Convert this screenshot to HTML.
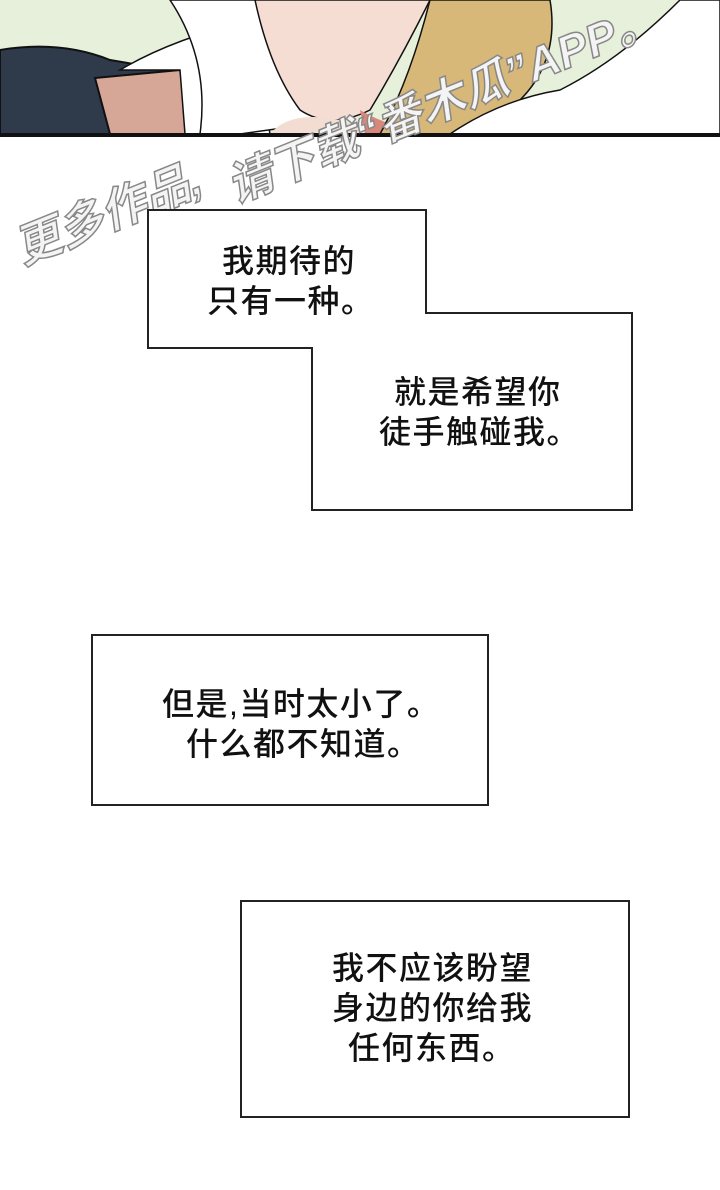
<!DOCTYPE html>
<html><head><meta charset="utf-8"><style>
body{margin:0;width:720px;height:1190px;background:#fff;position:relative;overflow:hidden;font-family:"Liberation Sans","Noto Sans CJK SC",sans-serif}
.t{position:absolute;font-size:32px;line-height:40px;color:#111;font-weight:500;white-space:nowrap;letter-spacing:1.5px}
.b{position:absolute;border:2px solid #222;background:#fff;box-sizing:border-box}
.wm{position:absolute;font-style:italic;font-weight:bold;-webkit-text-stroke:1.5px #888;color:#f4f4f4;white-space:nowrap;transform-origin:left bottom}
</style></head><body>
<svg width="720" height="140" style="position:absolute;left:0;top:0">
<rect width="720" height="136" fill="#e6f0da"/>
<path d="M0 50 Q60 40 110 60 L200 75 L200 134 L0 134Z" fill="#2f3b4b" stroke="#111" stroke-width="2"/>
<path d="M95 78 L180 70 L192 134 L110 134Z" fill="#d6a797" stroke="#111" stroke-width="2"/>
<path d="M120 70 Q170 40 250 20 L270 134 L185 134 L180 70Z" fill="#fff" stroke="#111" stroke-width="1.5"/>
<path d="M170 0 L260 0 Q290 80 340 120 L240 134 L200 134 Q210 60 170 0Z" fill="#fff" stroke="#111" stroke-width="1.5"/>
<path d="M255 0 L430 0 Q400 60 370 110 Q330 130 300 110 Q270 70 255 0Z" fill="#f6ddd3" stroke="#111" stroke-width="1.5"/>
<path d="M270 134 Q290 110 340 120 L380 134Z" fill="#f3ddd2"/>
<path d="M360 110 Q380 122 410 130 L400 134 L365 134Z" fill="#d9877a"/>
<path d="M430 0 L550 0 Q560 60 520 100 L470 134 L380 134 Q410 80 430 0Z" fill="#d8b878" stroke="#111" stroke-width="1.5"/>
<path d="M450 134 Q500 100 560 90 Q620 60 680 0 L720 0 L720 134Z" fill="#fff" stroke="#111" stroke-width="1.5"/>
<rect y="133" width="720" height="4" fill="#111"/>
</svg>
<div class="wm" style="left:28px;top:212px;transform:rotate(-22deg);font-size:46px">更多作品,</div>
<div class="wm" style="left:240px;top:150px;transform:rotate(-22deg);font-size:46px">请下载“番木瓜”APP。</div>
<svg width="720" height="1190" style="position:absolute;left:0;top:0;pointer-events:none">
<path d="M148 210 L426 210 L426 313 L632 313 L632 510 L312 510 L312 348 L148 348Z" fill="#fff" stroke="#222" stroke-width="2"/>
</svg>
<div class="t" style="left:222px;top:241px">我期待的</div>
<div class="t" style="left:207px;top:281px">只有一种。</div>
<div class="t" style="left:394px;top:372px">就是希望你</div>
<div class="t" style="left:379px;top:412px">徒手触碰我。</div>
<div class="b" style="left:91px;top:634px;width:398px;height:172px"></div>
<div class="t" style="left:162px;top:684px">但是,当时太小了。</div>
<div class="t" style="left:186px;top:724px">什么都不知道。</div>
<div class="b" style="left:240px;top:900px;width:390px;height:218px"></div>
<div class="t" style="left:332px;top:948px">我不应该盼望</div>
<div class="t" style="left:332px;top:988px">身边的你给我</div>
<div class="t" style="left:348px;top:1028px">任何东西。</div>
</body></html>
